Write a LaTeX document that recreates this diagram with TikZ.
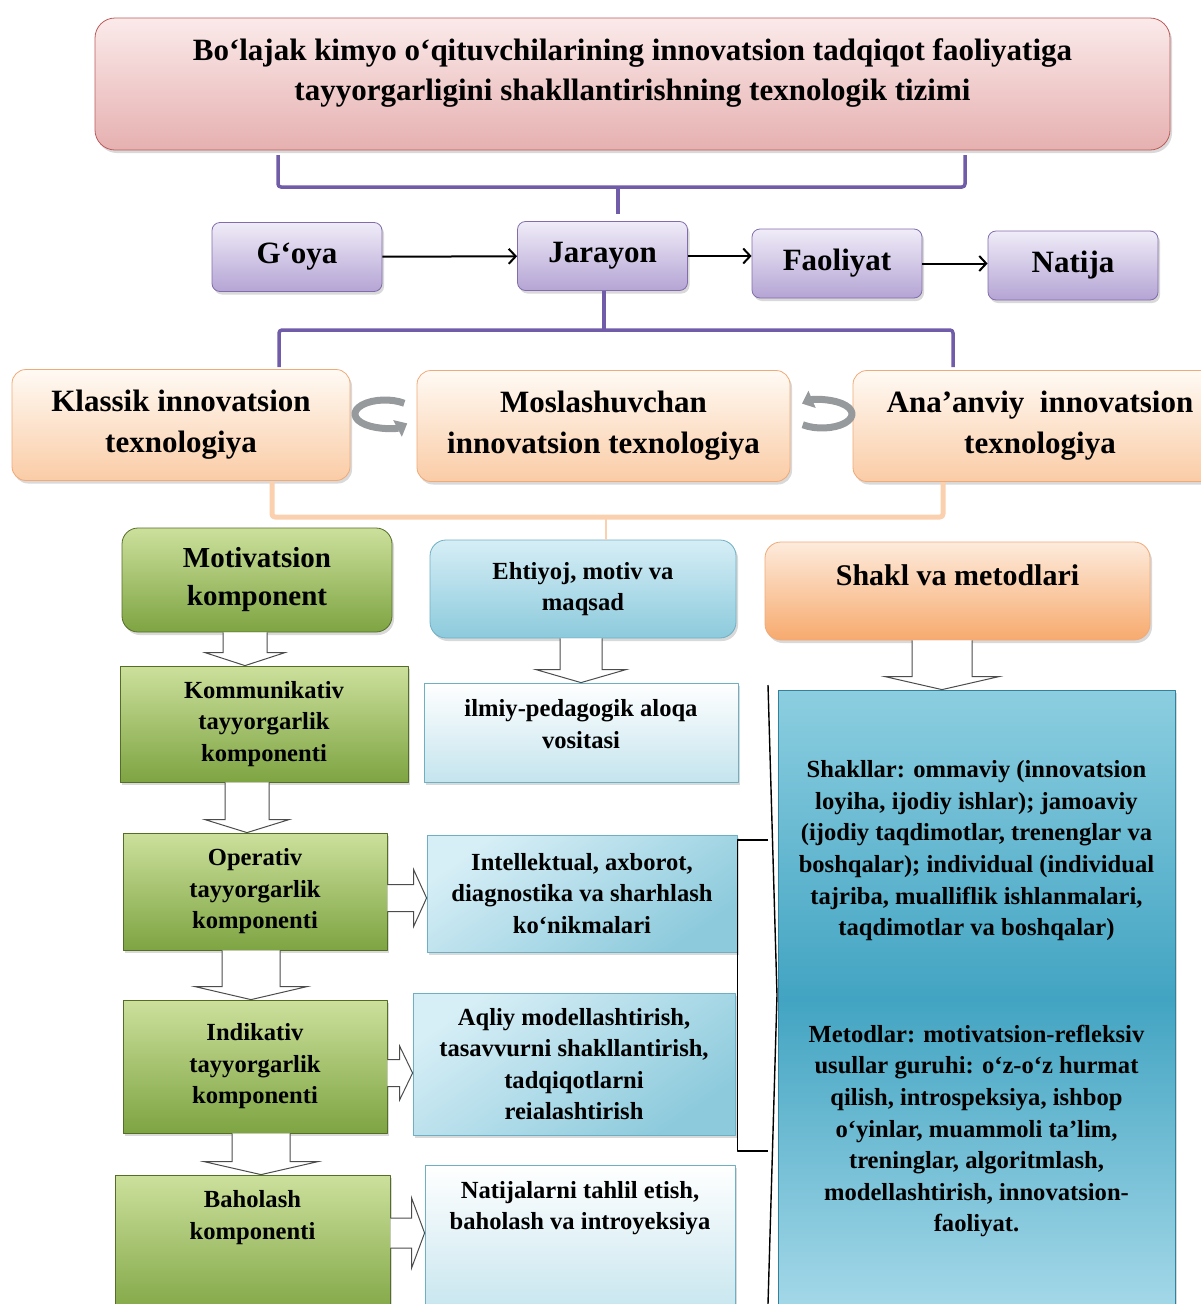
\documentclass[tikz,border=0pt]{standalone}
\usepackage{fontspec}
\setmainfont{Liberation Serif}
\usepackage{tikz}
\usetikzlibrary{arrows.meta,shadows,calc,positioning}

\definecolor{titleTop}{RGB}{251,234,234}
\definecolor{titleBot}{RGB}{230,176,176}
\definecolor{titleLine}{RGB}{190,90,90}
\definecolor{purTop}{RGB}{240,236,248}
\definecolor{purBot}{RGB}{180,164,212}
\definecolor{purLine}{RGB}{130,108,170}
\definecolor{braceP}{RGB}{112,92,168}
\definecolor{orTop}{RGB}{255,250,244}
\definecolor{orBot}{RGB}{250,204,166}
\definecolor{orLine}{RGB}{240,170,120}
\definecolor{braceO}{RGB}{250,208,174}
\definecolor{grTop}{RGB}{204,224,156}
\definecolor{grBot}{RGB}{126,164,66}
\definecolor{grLine}{RGB}{84,110,40}
\definecolor{blTop}{RGB}{214,238,246}
\definecolor{blBot}{RGB}{140,202,220}
\definecolor{blPale}{RGB}{196,228,238}
\definecolor{blLine}{RGB}{110,175,196}
\definecolor{shTop}{RGB}{253,235,220}
\definecolor{shBot}{RGB}{247,170,110}
\definecolor{bigTop}{RGB}{140,206,224}
\definecolor{bigMid}{RGB}{66,164,194}
\definecolor{bigBot}{RGB}{164,216,232}
\definecolor{bigLine}{RGB}{50,130,156}
\definecolor{ringGray}{RGB}{150,154,156}

% push a node text upwards by an empty last line
\newcommand{\lift}[1]{\\[#1]\mbox{}}
% hollow block arrows between nodes
\newcommand{\fatdown}[5]{%
  \draw[hollow] let \p1=(#1.south), \p2=(#2.north) in
    (#3pt-#4pt,\y1) -- (#3pt-#4pt,\y2+13pt) -- (#3pt-#5pt,\y2+13pt) -- (#3pt,\y2)
    -- (#3pt+#5pt,\y2+13pt) -- (#3pt+#4pt,\y2+13pt) -- (#3pt+#4pt,\y1);}
\newcommand{\fatright}[5]{%
  \draw[hollow] let \p1=(#1.east), \p2=(#2.west) in
    (\x1,-#3pt+#4pt) -- (\x2-13pt,-#3pt+#4pt) -- (\x2-13pt,-#3pt+#5pt) -- (\x2,-#3pt)
    -- (\x2-13pt,-#3pt-#5pt) -- (\x2-13pt,-#3pt-#4pt) -- (\x1,-#3pt-#4pt);}

\tikzset{
  base/.style={inner sep=0pt, align=center, line width=.8pt,
    drop shadow={shadow xshift=2pt, shadow yshift=-3pt, opacity=.3}},
  titlebox/.style={base, rounded corners=20pt, draw=titleLine, top color=titleTop,
    bottom color=titleBot, font=\bfseries\fontsize{31}{40}\selectfont},
  stage/.style={base, rounded corners=8pt, draw=purLine, top color=purTop, bottom color=purBot,
    font=\bfseries\fontsize{31}{38}\selectfont, minimum width=170pt, minimum height=69pt},
  tech/.style={base, rounded corners=14pt, draw=orLine, top color=orTop, bottom color=orBot,
    font=\bfseries\fontsize{31}{41}\selectfont, minimum height=111pt},
  comp/.style={base, draw=grLine, top color=grTop, bottom color=grBot,
    font=\bfseries\fontsize{24.6}{31.5}\selectfont},
  need/.style={base, rounded corners=16pt, draw=blLine, top color=blTop, bottom color=blBot,
    font=\bfseries\fontsize{24.6}{31.5}\selectfont},
  skill/.style={base, draw=blLine, top color=blTop, bottom color=blBot, shading angle=35,
    font=\bfseries\fontsize{24.6}{31.5}\selectfont},
  note/.style={base, draw=blLine, top color=white, bottom color=blPale,
    font=\bfseries\fontsize{24.6}{31.5}\selectfont},
  method/.style={base, rounded corners=16pt, draw=orLine, top color=shTop, bottom color=shBot,
    font=\bfseries\fontsize{30}{38}\selectfont},
  bigbox/.style={base, draw=bigLine, top color=bigTop, bottom color=bigBot, middle color=bigMid,
    font=\bfseries\fontsize{24.6}{31.6}\selectfont},
  flow/.style={->, line width=2pt},
  pbrace/.style={draw=braceP, line width=3.5pt, rounded corners=3pt},
  obrace/.style={draw=braceO, line width=5pt, rounded corners=3pt},
  brk/.style={line width=1.4pt},
  ring/.style={draw=ringGray, line width=7pt, -{Triangle[length=11pt,width=18pt]}},
  hollow/.style={draw=black!70, fill=white, line width=1pt, line join=miter}
}

\begin{document}
\begin{tikzpicture}[x=1pt, y=-1pt, >={Straight Barb[length=7pt,width=15pt]}, line join=round]
  \useasboundingbox (0,0) rectangle (1200,1304);

  % title and stages
  \node[titlebox, minimum width=1075pt, minimum height=132pt] (title) at (632.5,84)
    {Bo‘lajak kimyo o‘qituvchilarining innovatsion tadqiqot faoliyatiga\\tayyorgarligini shakllantirishning texnologik tizimi\lift{-12pt}};
  \node[stage] (goya) at (297,257)   {G‘oya};
  \node[stage] (jar)  at (602.5,256) {Jarayon};
  \node[stage] (faol) at (837,263.5) {Faoliyat};
  \node[stage] (nat)  at (1073,265.5) {Natija};
  \draw[flow] (goya) -- (jar);
  \draw[flow] (jar.east) -- (jar.east -| faol.west);
  \draw[flow] (faol.east) -- (faol.east -| nat.west);

  \coordinate (tl) at (278,155); \coordinate (tm) at (618,187); \coordinate (tr) at (965,155);
  \draw[pbrace] (tl) |- (tm) -| (tr);
  \draw[pbrace, shorten >=7pt] (tm) -- (tm |- jar.north);

  % technologies
  \node[tech, minimum width=338pt] (klassik) at (181,425)  {Klassik innovatsion\\texnologiya};
  \node[tech, minimum width=373pt] (mosl)    at (603.5,426) {Moslashuvchan\\innovatsion texnologiya};
  \node[tech, minimum width=374pt] (anan)    at (1040,426) {Ana’anviy\ \ innovatsion\\texnologiya};

  \coordinate (ml) at (279,367); \coordinate (mm) at (604,330); \coordinate (mr) at (953,367);
  \draw[pbrace] (jar.south -| mm) -- (mm);
  \draw[pbrace] (ml) |- (mm) -| (mr);

  \draw[ring] (385,414) ++(50:30pt and 14pt) arc[start angle=50, end angle=318, x radius=30pt, y radius=14pt];
  \draw[ring] (822,414) ++(230:30pt and 14pt) arc[start angle=230, end angle=492, x radius=30pt, y radius=14pt];

  % components
  \node[comp, rounded corners=16pt, minimum width=270pt, minimum height=104pt,
    font=\bfseries\fontsize{29}{38}\selectfont] (mot) at (257,580) {Motivatsion\\komponent};
  \node[need, minimum width=306pt, minimum height=98pt] (ehti) at (583,589) {Ehtiyoj, motiv va\\maqsad};
  \node[method, minimum width=385pt, minimum height=98pt] (shakl) at (957.5,591) {Shakl va metodlari\lift{-6pt}};

  \coordinate (obl) at (272,482); \coordinate (obm) at (606,517); \coordinate (obr) at (943,482);
  \draw[obrace] (obl) |- (obm) -| (obr);
  \draw[obrace, line width=2.5pt] (obm) -- (obm |- ehti.north);

  \node[comp, minimum width=288pt, minimum height=116pt] (komm) at (264,724) {Kommunikativ\\tayyorgarlik\\komponenti};
  \node[note, minimum width=314pt, minimum height=99pt] (ilmiy) at (581,732.5) {ilmiy-pedagogik aloqa\\vositasi\lift{-14.5pt}};
  \node[comp, minimum width=264pt, minimum height=117pt] (oper) at (255,891.5) {Operativ\\tayyorgarlik\\komponenti};
  \node[skill, minimum width=310pt, minimum height=117pt] (intel) at (582,893.5) {Intellektual, axborot,\\diagnostika va sharhlash\\ko‘nikmalari};
  \node[comp, minimum width=264pt, minimum height=133pt] (indik) at (255,1066.5) {Indikativ\\tayyorgarlik\\komponenti};
  \node[skill, minimum width=322pt, minimum height=142pt] (aqliy) at (574,1064) {Aqliy modellashtirish,\\tasavvurni shakllantirish,\\tadqiqotlarni\\reialashtirish};
  \node[comp, minimum width=275pt, minimum height=145pt] (baho) at (252.5,1247.5) {Baholash\\komponenti\lift{33.5pt}};
  \node[note, minimum width=310pt, minimum height=155pt] (natij) at (580,1242.5) {Natijalarni tahlil etish,\\baholash va introyeksiya\lift{42.5pt}};
  \node[bigbox, minimum width=397pt, minimum height=618pt] (big) at (976.5,999)
    {Shakllar: ommaviy (innovatsion\\loyiha, ijodiy ishlar); jamoaviy\\(ijodiy taqdimotlar, trenenglar va\\boshqalar); individual (individual\\tajriba, mualliflik ishlanmalari,\\taqdimotlar va boshqalar)\\[75pt]Metodlar: motivatsion-refleksiv\\usullar guruhi: o‘z-o‘z hurmat\\qilish, introspeksiya, ishbop\\o‘yinlar, muammoli ta’lim,\\treninglar, algoritmlash,\\modellashtirish, innovatsion-\\faoliyat.};

  % block arrows
  \fatdown{mot}{komm}{245}{22}{40}
  \fatdown{komm}{oper}{247}{22}{42}
  \fatdown{oper}{indik}{251}{29}{56}
  \fatdown{indik}{baho}{261}{29}{57}
  \fatdown{ehti}{ilmiy}{581}{21}{45}
  \fatdown{shakl}{big}{942}{30}{57}
  \fatright{oper}{intel}{898}{13.5}{28.5}
  \fatright{indik}{aqliy}{1073}{13.5}{27}
  \fatright{baho}{natij}{1233}{15}{35}

  % bracket to the forms and methods
  \coordinate (bt) at (768,685); \coordinate (bm) at (777,995); \coordinate (bb) at (768,1304);
  \draw[brk] (bt) -- (bm) -- (bb);
  \coordinate (it) at (768,840); \coordinate (ib) at (768,1151);
  \draw[brk] (it) -- (it -| intel.east) -- (ib -| intel.east) -- (ib);
\end{tikzpicture}
\end{document}
